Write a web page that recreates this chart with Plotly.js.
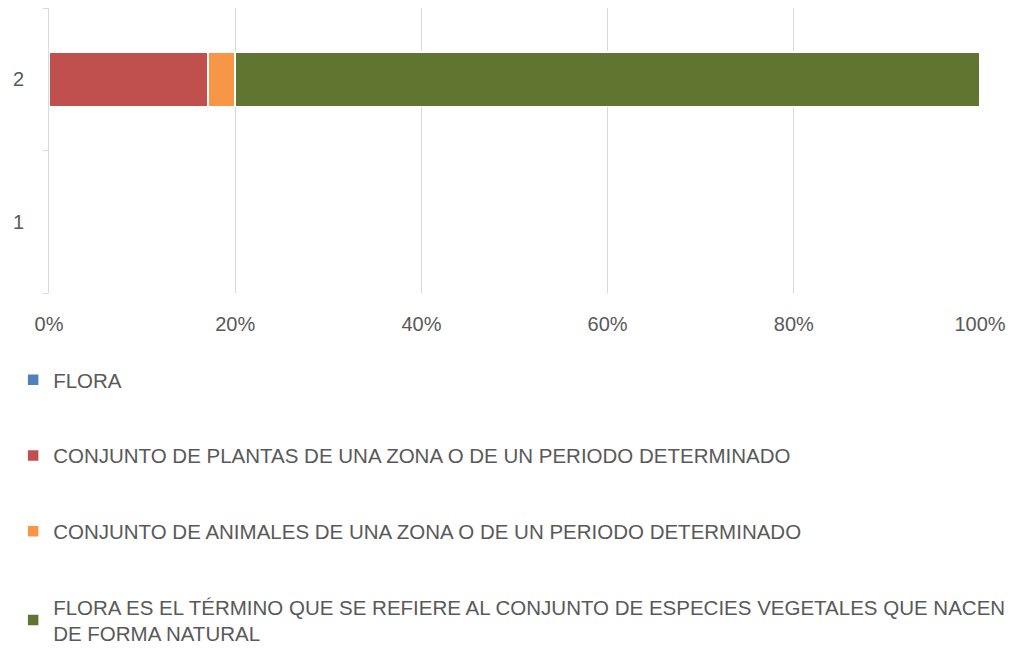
<!DOCTYPE html>
<html>
<head>
<meta charset="utf-8">
<script src="https://cdn.plot.ly/plotly-3.0.1.min.js"></script>
<style>html,body{margin:0;padding:0;background:#fff;}#chart{width:1011px;height:651px;}</style>
</head>
<body>
<div id="chart"></div>
<script>
const categories = ['1', '2'];
const seriesNames = [
  'FLORA',
  'CONJUNTO DE PLANTAS DE UNA ZONA O DE UN PERIODO DETERMINADO',
  'CONJUNTO DE ANIMALES DE UNA ZONA O DE UN PERIODO DETERMINADO',
  'FLORA ES EL TÉRMINO QUE SE REFIERE AL CONJUNTO DE ESPECIES VEGETALES QUE NACEN<br>DE FORMA NATURAL'
];
const flora = [null, 0];
const plantas = [null, 17.1];
const animales = [null, 2.9];
const terminoFlora = [null, 80.0];
const xTickVals = [0, 20, 40, 60, 80, 100];
const xTickText = ['0%', '20%', '40%', '60%', '80%', '100%'];
const colors = ['#4F81BD', '#C0504D', '#F79646', '#5F7530'];

const seriesValues = [flora, plantas, animales, terminoFlora];
const FONT = 'Liberation Sans, Arial, sans-serif';
const FS = 20;
const traces = seriesValues.map((vals, i) => ({
  type: 'bar',
  orientation: 'h',
  y: categories,
  x: vals,
  name: seriesNames[i],
  legendgroup: 'g' + i,
  marker: {color: colors[i], line: {color: '#ffffff', width: 1.5}},
  hoverinfo: 'x+name'
}));

const layout = {
  width: 1011,
  height: 651,
  paper_bgcolor: '#ffffff',
  plot_bgcolor: '#ffffff',
  barmode: 'stack',
  bargap: 0.62,
  margin: {l: 49, r: 31, t: 8, b: 358, autoexpand: false},
  font: {family: FONT, size: FS, color: '#595959'},
  xaxis: {
    range: [0, 100],
    tickvals: xTickVals,
    ticktext: xTickText,
    showgrid: true,
    gridcolor: '#d9d9d9',
    gridwidth: 1,
    zeroline: false,
    showline: false,
    ticks: '',
    ticklabelstandoff: 17,
    tickfont: {family: FONT, size: FS, color: '#595959'},
    fixedrange: true
  },
  yaxis: {
    type: 'category',
    categoryorder: 'array',
    categoryarray: categories,
    showgrid: false,
    zeroline: false,
    showline: true,
    linecolor: '#d9d9d9',
    linewidth: 1,
    ticks: 'outside',
    tickson: 'boundaries',
    ticklen: 5,
    tickcolor: '#d9d9d9',
    ticklabelstandoff: 20,
    tickfont: {family: FONT, size: FS, color: '#595959'},
    fixedrange: true
  },
  showlegend: true,
  legend: {
    orientation: 'v',
    xref: 'container',
    yref: 'container',
    x: 0.013,
    xanchor: 'left',
    y: 0.447,
    yanchor: 'top',
    traceorder: 'grouped',
    tracegroupgap: 46,
    itemwidth: 30,
    font: {family: FONT, size: 20.5, color: '#595959'},
    bgcolor: 'rgba(0,0,0,0)'
  }
};

Plotly.newPlot('chart', traces, layout, {displayModeBar: false, staticPlot: true});
</script>
</body>
</html>
